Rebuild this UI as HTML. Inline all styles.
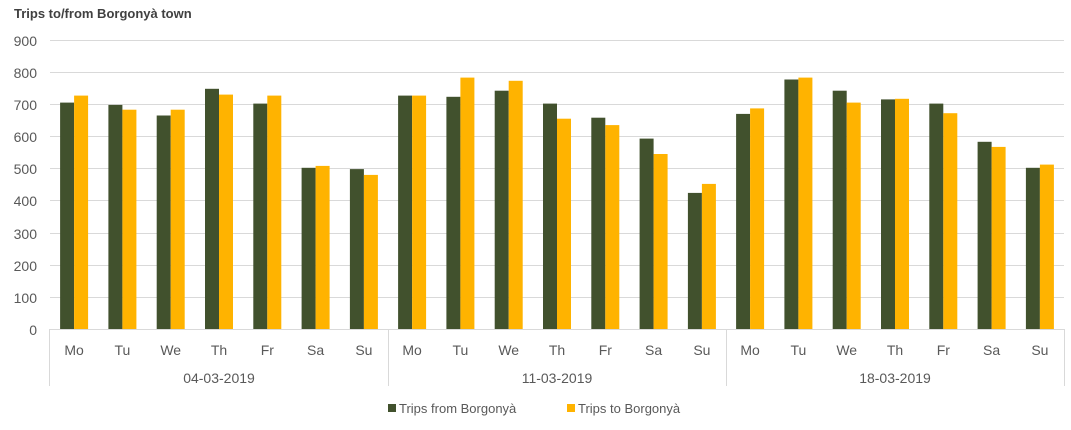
<!DOCTYPE html>
<html><head><meta charset="utf-8"><style>
html,body{margin:0;padding:0;background:#fff;}
svg text{font-family:"Liberation Sans",sans-serif;fill:#595959;}
</style></head><body>
<svg width="1071" height="425" xmlns="http://www.w3.org/2000/svg">
<text x="14" y="18" font-size="13" font-weight="bold" style="fill:#404040">Trips to/from Borgonyà town</text>
<g stroke="#d9d9d9" stroke-width="1">
<line x1="50" x2="1064" y1="40.5" y2="40.5"/><line x1="50" x2="1064" y1="72.5" y2="72.5"/>
<line x1="50" x2="1064" y1="104.5" y2="104.5"/><line x1="50" x2="1064" y1="136.5" y2="136.5"/>
<line x1="50" x2="1064" y1="168.5" y2="168.5"/><line x1="50" x2="1064" y1="200.5" y2="200.5"/>
<line x1="50" x2="1064" y1="233.5" y2="233.5"/><line x1="50" x2="1064" y1="265.5" y2="265.5"/>
<line x1="50" x2="1064" y1="297.5" y2="297.5"/>
</g>
<g font-size="14" text-anchor="end">
<text x="37" y="46">900</text><text x="37" y="78">800</text><text x="37" y="110">700</text>
<text x="37" y="142">600</text><text x="37" y="174">500</text><text x="37" y="206">400</text>
<text x="37" y="239">300</text><text x="37" y="271">200</text><text x="37" y="303">100</text>
<text x="37" y="335">0</text>
</g>
<g fill="#41512d">
<rect x="60.1" y="102.6" width="14" height="226.4"/>
<rect x="108.4" y="104.9" width="14" height="224.1"/>
<rect x="156.7" y="115.5" width="14" height="213.5"/>
<rect x="205" y="88.8" width="14" height="240.2"/>
<rect x="253.3" y="103.6" width="14" height="225.4"/>
<rect x="301.6" y="167.8" width="14" height="161.2"/>
<rect x="349.9" y="169.1" width="14" height="159.9"/>
<rect x="398.1" y="95.6" width="14" height="233.4"/>
<rect x="446.4" y="96.8" width="14" height="232.2"/>
<rect x="494.7" y="90.7" width="14" height="238.3"/>
<rect x="543" y="103.6" width="14" height="225.4"/>
<rect x="591.3" y="117.7" width="14" height="211.3"/>
<rect x="639.6" y="138.6" width="14" height="190.4"/>
<rect x="687.9" y="192.9" width="14" height="136.1"/>
<rect x="736.1" y="113.9" width="14" height="215.1"/>
<rect x="784.4" y="79.5" width="14" height="249.5"/>
<rect x="832.7" y="90.7" width="14" height="238.3"/>
<rect x="881" y="99.4" width="14" height="229.6"/>
<rect x="929.3" y="103.6" width="14" height="225.4"/>
<rect x="977.6" y="141.8" width="14" height="187.2"/>
<rect x="1025.9" y="167.8" width="14" height="161.2"/>
</g>
<g fill="#ffb300">
<rect x="74.1" y="95.6" width="14" height="233.4"/>
<rect x="122.4" y="109.7" width="14" height="219.3"/>
<rect x="170.7" y="109.7" width="14" height="219.3"/>
<rect x="219" y="94.6" width="14" height="234.4"/>
<rect x="267.3" y="95.6" width="14" height="233.4"/>
<rect x="315.6" y="165.9" width="14" height="163.1"/>
<rect x="363.9" y="174.9" width="14" height="154.1"/>
<rect x="412.1" y="95.6" width="14" height="233.4"/>
<rect x="460.4" y="77.6" width="14" height="251.4"/>
<rect x="508.7" y="80.8" width="14" height="248.2"/>
<rect x="557" y="118.7" width="14" height="210.3"/>
<rect x="605.3" y="125.1" width="14" height="203.9"/>
<rect x="653.6" y="154" width="14" height="175"/>
<rect x="701.9" y="183.9" width="14" height="145.1"/>
<rect x="750.1" y="108.4" width="14" height="220.6"/>
<rect x="798.4" y="77.6" width="14" height="251.4"/>
<rect x="846.7" y="102.6" width="14" height="226.4"/>
<rect x="895" y="98.8" width="14" height="230.2"/>
<rect x="943.3" y="113.2" width="14" height="215.8"/>
<rect x="991.6" y="146.9" width="14" height="182.1"/>
<rect x="1039.9" y="164.6" width="14" height="164.4"/>
</g>
<g stroke="#d9d9d9" stroke-width="1">
<line x1="50" x2="1064" y1="329.5" y2="329.5"/>
<line x1="49.5" x2="49.5" y1="329" y2="386"/>
<line x1="388.5" x2="388.5" y1="329" y2="386"/>
<line x1="726.5" x2="726.5" y1="329" y2="386"/>
<line x1="1064.5" x2="1064.5" y1="329" y2="386"/>
</g>
<g font-size="14" text-anchor="middle">
<text x="74.1" y="355">Mo</text><text x="122.4" y="355">Tu</text><text x="170.7" y="355">We</text>
<text x="219" y="355">Th</text><text x="267.3" y="355">Fr</text><text x="315.6" y="355">Sa</text>
<text x="363.9" y="355">Su</text>
<text x="412.1" y="355">Mo</text><text x="460.4" y="355">Tu</text><text x="508.7" y="355">We</text>
<text x="557" y="355">Th</text><text x="605.3" y="355">Fr</text><text x="653.6" y="355">Sa</text>
<text x="701.9" y="355">Su</text>
<text x="750.1" y="355">Mo</text><text x="798.4" y="355">Tu</text><text x="846.7" y="355">We</text>
<text x="895" y="355">Th</text><text x="943.3" y="355">Fr</text><text x="991.6" y="355">Sa</text>
<text x="1039.9" y="355">Su</text>
<text x="219" y="383">04-03-2019</text>
<text x="557" y="383">11-03-2019</text>
<text x="895" y="383">18-03-2019</text>
</g>
<rect x="388" y="404" width="8" height="8" fill="#41512d"/>
<text x="399" y="413" font-size="13">Trips from Borgonyà</text>
<rect x="567" y="404" width="8" height="8" fill="#ffb300"/>
<text x="578" y="413" font-size="13">Trips to Borgonyà</text>
</svg>
</body></html>
